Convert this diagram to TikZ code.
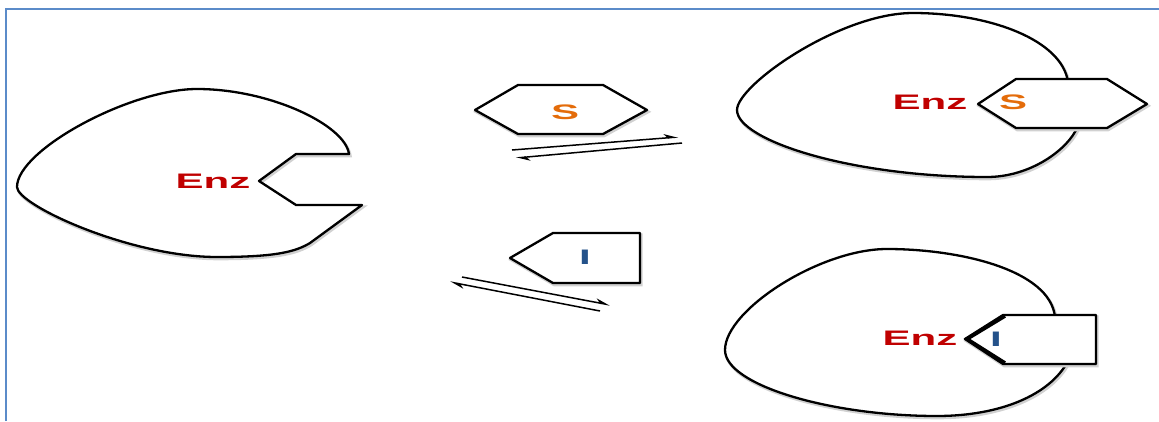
\documentclass[tikz,border=0pt]{standalone}
\usepackage{fontspec}
\setmainfont{Liberation Sans}
\usetikzlibrary{arrows.meta}
\definecolor{enzred}{HTML}{C00000}
\definecolor{subor}{HTML}{E46C0A}
\definecolor{inhblue}{HTML}{24528A}
\definecolor{framebl}{HTML}{5B8BC9}
\tikzset{
  outline/.style={draw=black, line width=2.3pt, line join=round, fill=white,
    preaction={draw=black!18, line width=3pt, transform canvas={shift={(1.2pt,-1.8pt)}}}},
  lbl/.style={inner sep=0pt, font=\fontsize{21}{21}\selectfont\bfseries},
  eqarrow/.style={line width=1.5pt, -{Stealth[harpoon, length=12pt, width=8pt]}},
}
\newcommand{\wide}[1]{\scalebox{2.0}[1]{#1}}
\begin{document}
\begin{tikzpicture}[x=1pt, y=-1pt]
\useasboundingbox (0,0) rectangle (1159,421);
% frame
\draw[framebl, line width=1.5pt] (6,421) -- (6,9) -- (1159,9);

% free enzyme
\draw[outline] (362,205) -- (296,205) -- (259,181) -- (296,154) -- (349,154)
  .. controls (345,125) and (270,89) .. (197,89)
  .. controls (130,89) and (17,150) .. (17,187)
  .. controls (17,205) and (130,257) .. (217,257)
  .. controls (275,257) and (295,252) .. (310,243) -- cycle;
\node[lbl, text=enzred] (enz1) at (213,181) {\wide{Enz}};

% substrate
\draw[outline] (475,110) -- (518,85) -- (603,85) -- (647,110) -- (603,134) -- (518,134) -- cycle;
\node[lbl, text=subor] (s) at (565,112) {\wide{S}};

% equilibrium S
\coordinate (sa1) at (512,150); \coordinate (sa2) at (678,137);
\coordinate (sb1) at (682,143); \coordinate (sb2) at (516,158);
\draw[eqarrow] (sa1) -- (sa2);
\draw[eqarrow] (sb1) -- (sb2);

% inhibitor
\draw[outline] (510,258) -- (553,233) -- (640,233) -- (640,283) -- (553,283) -- cycle;
\node[lbl, text=inhblue] (i) at (585,257) {\wide{I}};

% equilibrium I
\coordinate (ia1) at (462,277); \coordinate (ia2) at (610,305);
\coordinate (ib1) at (600,311); \coordinate (ib2) at (450,282);
\draw[eqarrow] (ia1) -- (ia2);
\draw[eqarrow] (ib1) -- (ib2);

% ES complex
\draw[outline] (1068,82)
  .. controls (1062,40) and (990,13) .. (913,13)
  .. controls (840,13) and (737,85) .. (737,110)
  .. controls (737,140) and (850,177) .. (987,177)
  .. controls (1030,177) and (1068,150) .. (1078,126) -- cycle;
\draw[outline] (978,104) -- (1016,79) -- (1107,79) -- (1147,104) -- (1107,128) -- (1016,128) -- cycle;
\node[lbl, text=enzred] (enz2) at (930,102) {\wide{Enz}};
\node[lbl, text=subor] (s2) at (1013,102) {\wide{S}};

% EI complex
\draw[outline] (1055,317)
  .. controls (1050,270) and (960,249) .. (887,249)
  .. controls (820,249) and (725,310) .. (725,350)
  .. controls (725,385) and (830,416) .. (937,416)
  .. controls (1000,416) and (1050,395) .. (1068,361) -- cycle;
\draw[outline] (965,339) -- (1003,315) -- (1096,315) -- (1096,364) -- (1003,364) -- cycle;
\draw[line width=3.6pt, line join=miter] (1005,316) -- (967,339) -- (1005,363);
\node[lbl, text=enzred] (enz3) at (920,338) {\wide{Enz}};
\node[lbl, text=inhblue] (i2) at (996,339) {\wide{I}};
\end{tikzpicture}
\end{document}
